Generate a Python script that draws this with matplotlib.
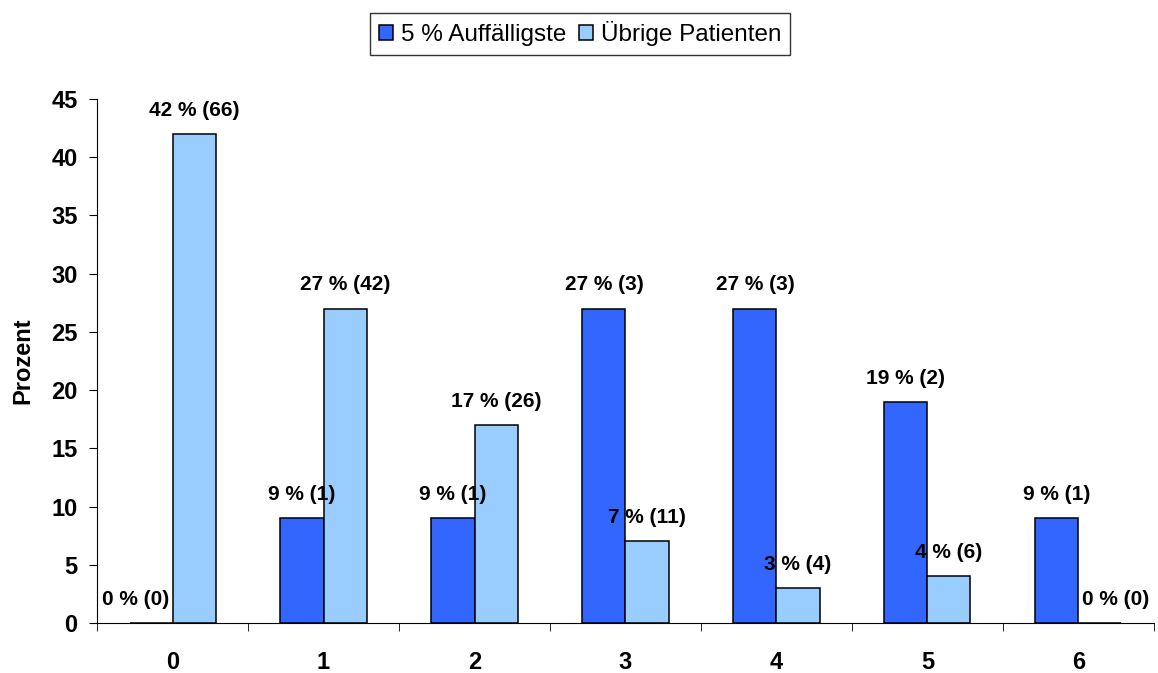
import matplotlib.pyplot as plt
import numpy as np

plt.rcParams['font.family'] = ['Liberation Sans', 'DejaVu Sans']

categories = ['0', '1', '2', '3', '4', '5', '6']
auffaellig_pct = [0, 9, 9, 27, 27, 19, 9]
auffaellig_n = [0, 1, 1, 3, 3, 2, 1]
uebrige_pct = [42, 27, 17, 7, 3, 4, 0]
uebrige_n = [66, 42, 26, 11, 4, 6, 0]

fig = plt.figure(figsize=(11.58, 6.73), dpi=100)
ax = fig.add_axes([0.0838, 0.0743, 0.9127, 0.7786])

x = np.arange(len(categories))
w = 0.285
b1 = ax.bar(x - w / 2, auffaellig_pct, w, color='#3366FF', edgecolor='black',
            linewidth=1.1, label='5 % Auffälligste')
b2 = ax.bar(x + w / 2, uebrige_pct, w, color='#99CCFF', edgecolor='black',
            linewidth=1.1, label='Übrige Patienten')

# value labels; zero labels are nudged away from the neighbouring bar
for bars, pct, n, dx in [(b1, auffaellig_pct, auffaellig_n, -11),
                         (b2, uebrige_pct, uebrige_n, 11)]:
    for rect, p, k in zip(bars, pct, n):
        ax.annotate(f'{p} % ({k})', (rect.get_x() + rect.get_width() / 2, p),
                    xytext=(dx if p == 0 else 0, 17), textcoords='offset points',
                    ha='center', va='center', fontsize=15, fontweight='bold')

ax.set_xlim(-0.5, len(categories) - 0.5)
ax.set_ylim(0, 45)
ax.set_yticks(range(0, 46, 5))
ax.set_xticks(x)
ax.set_xticklabels(categories, fontsize=17, fontweight='bold')
ax.set_xticks(np.arange(-0.5, len(categories), 1), minor=True)
ax.tick_params(axis='x', which='major', length=0, pad=20)
ax.tick_params(axis='x', which='minor', length=6, direction='out')
ax.tick_params(axis='y', length=6, direction='out', labelsize=17, pad=8)
for lbl in ax.get_yticklabels():
    lbl.set_fontweight('bold')
ax.set_ylabel('Prozent', fontsize=17, fontweight='bold', labelpad=12)

ax.spines['top'].set_visible(False)
ax.spines['right'].set_visible(False)

leg = fig.legend(loc='center', bbox_to_anchor=(0.501, 0.950), ncol=2,
                 fontsize=17.5, frameon=True, fancybox=False, edgecolor='black',
                 handlelength=0.58, handleheight=0.58, handletextpad=0.33,
                 columnspacing=0.54, borderpad=0.35)
leg.get_frame().set_linewidth(1.0)

fig.savefig('out.png', dpi=100)
